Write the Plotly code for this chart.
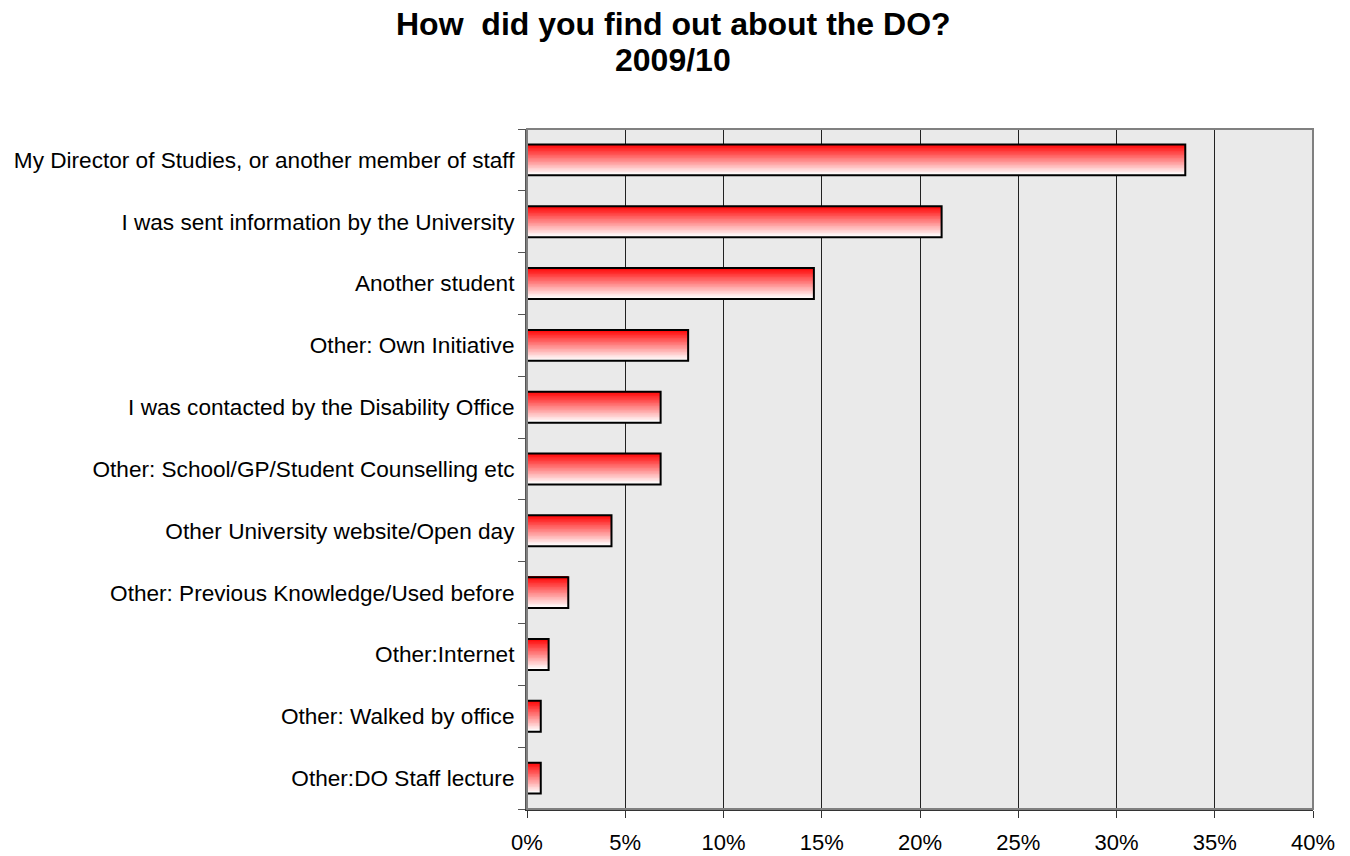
import plotly.graph_objects as go

categories = [
    "My Director of Studies, or another member of staff",
    "I was sent information by the University",
    "Another student",
    "Other: Own Initiative",
    "I was contacted by the Disability Office",
    "Other: School/GP/Student Counselling etc",
    "Other University website/Open day",
    "Other: Previous Knowledge/Used before",
    "Other:Internet",
    "Other: Walked by office",
    "Other:DO Staff lecture",
]
values = [33.5, 21.1, 14.6, 8.2, 6.8, 6.8, 4.3, 2.1, 1.1, 0.7, 0.7]

title_lines = ["<b>How  did you find out about the DO?</b>", "<b>2009/10</b>"]
x_ticks = [0, 5, 10, 15, 20, 25, 30, 35, 40]
x_tick_labels = ["0%", "5%", "10%", "15%", "20%", "25%", "30%", "35%", "40%"]

# bottom-to-top order so that the first category is drawn at the top
cats_plot = categories[::-1]
vals_plot = values[::-1]

FONT = "Liberation Sans, Arial, sans-serif"
BAR_W = 0.5
N = 40

fig = go.Figure()

# vertical gradient: red at the top of each bar to white at its bottom
h = BAR_W / N
for i in range(N):
    t = i / (N - 1)
    g = int(round(255 * t))
    color = f"rgb(255,{g},{g})"
    fig.add_trace(go.Bar(
        y=cats_plot, x=vals_plot, orientation="h",
        width=h * 1.3, offset=BAR_W / 2 - (i + 1) * h,
        marker=dict(color=color, line=dict(width=0)),
        showlegend=False, hoverinfo="skip",
    ))

# outline
fig.add_trace(go.Bar(
    y=cats_plot, x=vals_plot, orientation="h",
    width=BAR_W, offset=-BAR_W / 2,
    marker=dict(color="rgba(0,0,0,0)", line=dict(color="black", width=2)),
    showlegend=False,
    hovertemplate="%{y}: %{x}%<extra></extra>",
))

title_y = [1.1544, 1.1015]
annotations = [
    dict(
        text=txt, xref="paper", yref="paper",
        x=0.1858, y=yy, xanchor="center", yanchor="middle",
        showarrow=False, align="center",
        font=dict(family=FONT, size=32, color="black"),
    )
    for txt, yy in zip(title_lines, title_y)
]

fig.update_layout(
    width=1350, height=856,
    barmode="overlay",
    paper_bgcolor="white",
    plot_bgcolor="#eaeaea",
    margin=dict(l=519, r=45, t=121, b=55, autoexpand=False),
    font=dict(family=FONT, size=22, color="black"),
    annotations=annotations,
    xaxis=dict(
        range=[0, 40], tickmode="array", tickvals=x_ticks, ticktext=x_tick_labels,
        showgrid=True, gridcolor="#222222", gridwidth=1,
        zeroline=False, automargin=False,
        showline=True, linecolor="#333333", linewidth=2, mirror=False,
        ticks="outside", ticklen=7, tickcolor="#333333",
        ticklabelstandoff=6,
        tickfont=dict(family=FONT, size=22),
    ),
    yaxis=dict(
        type="category", categoryorder="array", categoryarray=cats_plot,
        showgrid=False, zeroline=False, automargin=False,
        showline=True, linecolor="#555555", linewidth=2,
        ticks="outside", ticklen=7, tickcolor="#555555",
        tickson="boundaries",
        ticklabelstandoff=6,
        tickfont=dict(family=FONT, size=22.6),
    ),
    shapes=[dict(
        type="rect", xref="paper", yref="paper", x0=0, x1=1, y0=0, y1=1,
        line=dict(color="#808080", width=2), fillcolor="rgba(0,0,0,0)",
        layer="above",
    )],
)

fig.write_html("out.html")
